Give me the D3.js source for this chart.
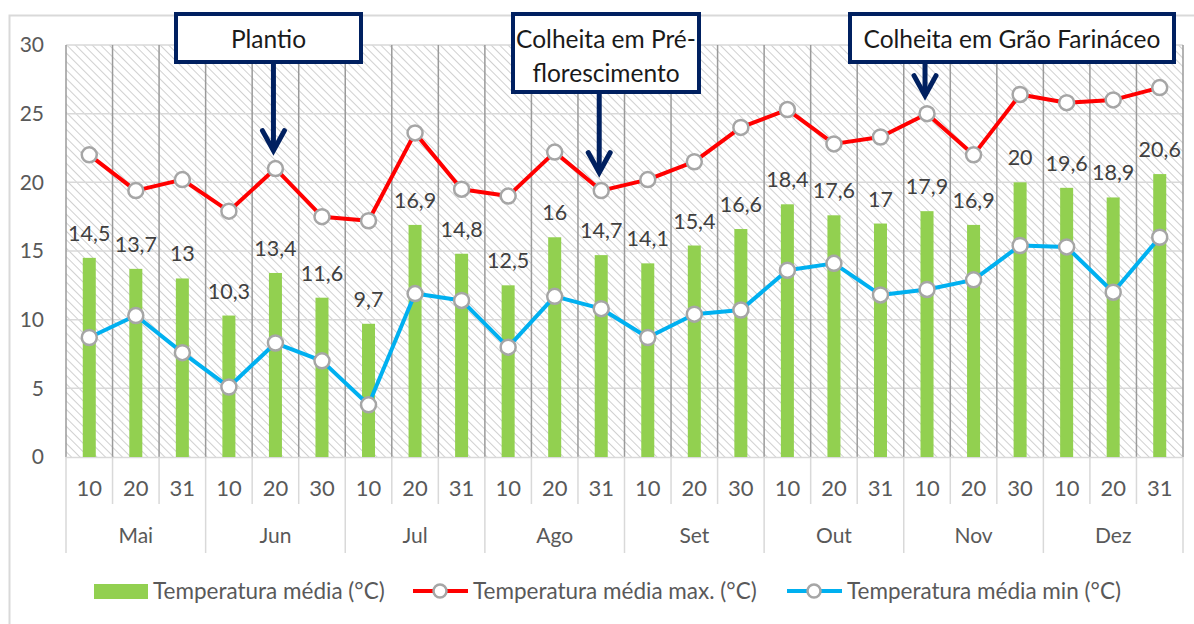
<!DOCTYPE html>
<html>
<head>
<meta charset="utf-8">
<script src="https://cdn.jsdelivr.net/npm/d3@7"></script>
<style>
  body { margin: 0; background: #fff; }
  svg text { font-family: Lato, "Noto Sans", sans-serif; }
</style>
</head>
<body>
<script>
// data (10-day periods, May to December)
var days = ["10", "20", "31", "10", "20", "30", "10", "20", "31", "10", "20", "31",
            "10", "20", "30", "10", "20", "31", "10", "20", "30", "10", "20", "31"];
var months = ["Mai", "Jun", "Jul", "Ago", "Set", "Out", "Nov", "Dez"];
var tempMedia = [14.5, 13.7, 13, 10.3, 13.4, 11.6, 9.7, 16.9, 14.8, 12.5, 16, 14.7,
                 14.1, 15.4, 16.6, 18.4, 17.6, 17, 17.9, 16.9, 20, 19.6, 18.9, 20.6];
var tempMax = [22.0, 19.4, 20.2, 17.9, 21.0, 17.5, 17.2, 23.6, 19.5, 19.0, 22.2, 19.4,
               20.2, 21.5, 24.0, 25.3, 22.8, 23.3, 25.0, 22.0, 26.4, 25.8, 26.0, 26.9];
var tempMin = [8.7, 10.3, 7.6, 5.1, 8.3, 7.0, 3.8, 11.9, 11.4, 8.0, 11.7, 10.8,
               8.7, 10.4, 10.7, 13.6, 14.1, 11.8, 12.2, 12.9, 15.4, 15.3, 12.0, 16.0];
var yTicks = [0, 5, 10, 15, 20, 25, 30];
var annotations = [
    { idx: 4, lines: ["Plantio"] },
    { idx: 11, lines: ["Colheita em Pré-", "florescimento"] },
    { idx: 18, lines: ["Colheita em Grão Farináceo"] }
];

var W = 1194, H = 624;
var margin = { top: 45, right: 11, bottom: 167, left: 66 },
    width = W - margin.left - margin.right,
    height = H - margin.top - margin.bottom;

var green = "#92d050", red = "#ff0000", blue = "#00b0f0", navy = "#002060";
var axisText = "#595959", labelText = "#404040";
var fmt = function (v) { return String(v).replace(".", ","); };

var svg = d3.select("body").append("svg")
    .attr("width", W)
    .attr("height", H);

// outer chart border
svg.append("rect")
    .attr("x", 9.5).attr("y", 15.5)
    .attr("width", W).attr("height", H)
    .attr("fill", "none")
    .attr("stroke", "#d9d9d9")
    .attr("stroke-width", 2);

var defs = svg.append("defs");
var pat = defs.append("pattern")
    .attr("id", "hatch")
    .attr("patternUnits", "userSpaceOnUse")
    .attr("width", 6).attr("height", 6)
    .attr("patternTransform", "rotate(-45)");
pat.append("rect").attr("width", 6).attr("height", 6).attr("fill", "#fff");
pat.append("line")
    .attr("x1", 0).attr("y1", 0).attr("x2", 0).attr("y2", 6)
    .attr("stroke", "#d0d0d0").attr("stroke-width", 2);

var g = svg.append("g")
    .attr("transform", "translate(" + margin.left + "," + margin.top + ")");

var idx = d3.range(days.length);
var x = d3.scaleBand().domain(idx).range([0, width]);
var y = d3.scaleLinear().domain([0, 30]).range([height, 0]);
var xm = d3.scaleBand().domain(months).range([0, width]);

// hatched plot background
g.append("rect")
    .attr("width", width).attr("height", height)
    .attr("fill", "url(#hatch)");

// horizontal gridlines
g.selectAll(".hgrid")
    .data(yTicks.slice(1))
    .enter().append("line")
    .attr("x1", 0).attr("x2", width)
    .attr("y1", d => y(d)).attr("y2", d => y(d))
    .attr("stroke", "#d9d9d9").attr("stroke-width", 1.5);

// vertical category lines inside plot
g.selectAll(".vgrid")
    .data(d3.range(days.length + 1))
    .enter().append("line")
    .attr("x1", d => d * x.step()).attr("x2", d => d * x.step())
    .attr("y1", 0).attr("y2", height)
    .attr("stroke", "#9a9a9a").attr("stroke-width", 1.5);

// separators under the axis (days and months)
g.selectAll(".dsep")
    .data(d3.range(days.length + 1))
    .enter().append("line")
    .attr("x1", d => d * x.step()).attr("x2", d => d * x.step())
    .attr("y1", height).attr("y2", d => d % 3 === 0 ? height + 96 : height + 47)
    .attr("stroke", "#d9d9d9").attr("stroke-width", 1.5);
g.append("line")
    .attr("x1", 0).attr("x2", width)
    .attr("y1", height + 0.5).attr("y2", height + 0.5)
    .attr("stroke", "#d9d9d9").attr("stroke-width", 1.5);

// y axis labels
var yAxis = d3.axisLeft(y).tickValues(yTicks).tickSize(0).tickPadding(22);
g.append("g").attr("class", "y axis")
    .call(yAxis)
    .call(s => s.select(".domain").remove())
    .selectAll("text")
    .attr("fill", axisText)
    .style("font-size", "21px");

// x axis: day labels
var xAxis = d3.axisBottom(x).tickFormat(i => days[i]).tickSize(0).tickPadding(23);
g.append("g").attr("class", "x axis")
    .attr("transform", "translate(0," + height + ")")
    .call(xAxis)
    .call(s => s.select(".domain").remove())
    .selectAll("text")
    .attr("fill", axisText)
    .style("font-size", "22px");

// x axis: month labels
var mAxis = d3.axisBottom(xm).tickSize(0).tickPadding(71);
g.append("g").attr("class", "m axis")
    .attr("transform", "translate(0," + height + ")")
    .call(mAxis)
    .call(s => s.select(".domain").remove())
    .selectAll("text")
    .attr("fill", axisText)
    .style("font-size", "21px");

// bars
var barW = 13;
g.selectAll(".bar")
    .data(tempMedia)
    .enter().append("rect")
    .attr("class", "bar")
    .attr("x", (d, i) => x(i) + x.bandwidth() / 2 - barW / 2)
    .attr("width", barW)
    .attr("y", d => y(d))
    .attr("height", d => height - y(d))
    .attr("fill", green);

// bar labels
g.selectAll(".label")
    .data(tempMedia)
    .enter().append("text")
    .attr("class", "label")
    .attr("x", (d, i) => x(i) + x.bandwidth() / 2)
    .attr("y", d => y(d) - 17)
    .attr("text-anchor", "middle")
    .attr("fill", labelText)
    .style("font-size", "21.5px")
    .text(d => fmt(d));

// lines with markers
var line = d3.line()
    .x((d, i) => x(i) + x.bandwidth() / 2)
    .y(d => y(d));

function drawSeries(values, color) {
    g.append("path")
        .datum(values)
        .attr("d", line)
        .attr("fill", "none")
        .attr("stroke", color)
        .attr("stroke-width", 4)
        .attr("stroke-linejoin", "round");
    g.selectAll(null)
        .data(values)
        .enter().append("circle")
        .attr("cx", (d, i) => x(i) + x.bandwidth() / 2)
        .attr("cy", d => y(d))
        .attr("r", 7.5)
        .attr("fill", "#fff")
        .attr("stroke", "#a6a6a6")
        .attr("stroke-width", 2.5);
}
drawSeries(tempMax, red);
drawSeries(tempMin, blue);

// annotation boxes with arrows
var boxes = [
    { x0: 176, x1: 361, y1: 62 },
    { x0: 513, x1: 699, y1: 92 },
    { x0: 850, x1: 1174, y1: 62 }
];
annotations.forEach(function (a, k) {
    var b = boxes[k];
    var px = margin.left + x(a.idx) + x.bandwidth() / 2;
    var tipY = margin.top + y(tempMax[a.idx]) - 18;
    var bx = (b.x0 + b.x1) / 2;
    var ax = px - 2;
    svg.append("line")
        .attr("x1", ax).attr("x2", ax)
        .attr("y1", b.y1).attr("y2", tipY)
        .attr("stroke", navy).attr("stroke-width", 5);
    svg.append("path")
        .attr("d", "M" + (ax - 11) + "," + (tipY - 20) + "L" + ax + "," + tipY + "L" + (ax + 11) + "," + (tipY - 20))
        .attr("fill", "none")
        .attr("stroke", navy)
        .attr("stroke-width", 5)
        .attr("stroke-linecap", "round")
        .attr("stroke-linejoin", "miter");
    svg.append("rect")
        .attr("x", b.x0).attr("y", 14)
        .attr("width", b.x1 - b.x0).attr("height", b.y1 - 14)
        .attr("fill", "#fff")
        .attr("stroke", navy)
        .attr("stroke-width", 4);
    svg.selectAll(null)
        .data(a.lines)
        .enter().append("text")
        .attr("x", bx)
        .attr("y", (d, i) => 48 + i * 34)
        .attr("text-anchor", "middle")
        .attr("fill", "#1a1a1a")
        .style("font-size", "24.5px")
        .text(d => d);
});

// legend
var legend = svg.append("g").attr("transform", "translate(0,591)");
legend.append("rect")
    .attr("x", 94).attr("y", -7).attr("width", 54).attr("height", 15)
    .attr("fill", green);
legend.append("text").attr("x", 153).attr("y", 8)
    .attr("fill", axisText).style("font-size", "22.5px")
    .text("Temperatura média (°C)");
[{ x0: 413, color: red, tx: 473, label: "Temperatura média max. (°C)" },
 { x0: 787, color: blue, tx: 847, label: "Temperatura média min (°C)" }].forEach(function (l) {
    legend.append("line")
        .attr("x1", l.x0).attr("x2", l.x0 + 55)
        .attr("stroke", l.color).attr("stroke-width", 4);
    legend.append("circle")
        .attr("cx", l.x0 + 27).attr("r", 6.5)
        .attr("fill", "#fff").attr("stroke", "#a6a6a6").attr("stroke-width", 2.5);
    legend.append("text").attr("x", l.tx).attr("y", 8)
        .attr("fill", axisText).style("font-size", "22.5px")
        .text(l.label);
});
</script>
</body>
</html>
